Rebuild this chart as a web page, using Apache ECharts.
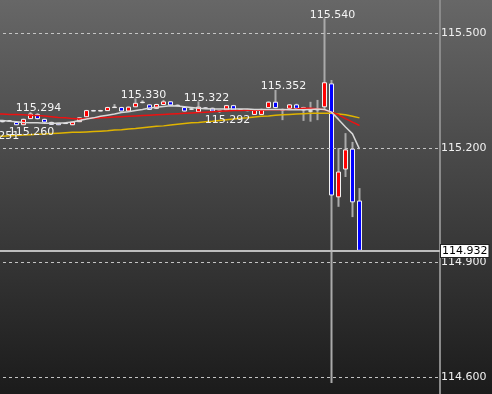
<!DOCTYPE html>
<html>
<head>
<meta charset="utf-8">
<script src="https://cdn.jsdelivr.net/npm/echarts@6/dist/echarts.min.js"></script>
<style>
html,body{margin:0;padding:0;background:#333;}
#chart{width:492px;height:394px;}
</style>
</head>
<body>
<div id="chart"></div>
<script>
// ---- data (price units) ----
const opens = [115.262,115.265,115.270,115.271,115.267,115.261,115.277,115.288,115.275,115.267,
  115.265,115.265,115.261,115.269,115.282,115.298,115.297,115.298,115.306,115.306,
  115.297,115.308,115.319,115.313,115.304,115.314,115.321,115.312,115.306,115.302,
  115.295,115.305,115.304,115.297,115.300,115.311,115.300,115.299,115.288,115.288,
  115.306,115.320,115.300,115.304,115.313,115.306,115.297,115.300,115.308,115.368,
  115.072,115.145,115.197,115.061];
const closes = [115.258,115.268,115.269,115.271,115.261,115.275,115.289,115.277,115.268,115.262,
  115.261,115.264,115.268,115.279,115.298,115.297,115.298,115.306,115.307,115.297,
  115.307,115.317,115.320,115.301,115.314,115.321,115.313,115.311,115.297,115.302,
  115.307,115.304,115.297,115.296,115.311,115.300,115.300,115.298,115.300,115.301,
  115.320,115.306,115.300,115.313,115.304,115.300,115.297,115.301,115.371,115.077,
  115.137,115.195,115.059,114.932];
const lows = [115.251,115.262,115.267,115.269,115.260,115.260,115.276,115.275,115.266,115.261,
  115.260,115.263,115.260,115.268,115.281,115.296,115.296,115.297,115.305,115.296,
  115.296,115.307,115.317,115.300,115.302,115.313,115.311,115.309,115.296,115.300,
  115.294,115.302,115.295,115.292,115.299,115.298,115.298,115.296,115.287,115.287,
  115.304,115.304,115.273,115.302,115.302,115.271,115.269,115.273,115.300,114.584,
  115.046,115.124,115.019,114.929];
const highs = [115.266,115.270,115.272,115.273,115.269,115.277,115.294,115.291,115.277,115.269,
  115.266,115.267,115.269,115.280,115.300,115.300,115.300,115.308,115.315,115.308,
  115.309,115.330,115.325,115.315,115.316,115.326,115.323,115.314,115.308,115.305,
  115.322,115.307,115.306,115.299,115.313,115.313,115.302,115.301,115.301,115.303,
  115.322,115.352,115.303,115.315,115.316,115.308,115.321,115.326,115.540,115.378,
  115.200,115.239,115.216,115.095];
const maRed = [115.289,115.289,115.289,115.288,115.288,115.287,115.286,115.285,115.284,115.282,
  115.280,115.279,115.277,115.276,115.277,115.278,115.279,115.280,115.281,115.282,
  115.283,115.284,115.285,115.286,115.287,115.288,115.289,115.290,115.291,115.292,
  115.293,115.294,115.295,115.296,115.297,115.298,115.298,115.299,115.299,115.299,
  115.300,115.300,115.300,115.301,115.302,115.304,115.304,115.303,115.300,115.294,
  115.287,115.277,115.268,115.259];
const maYellow = [115.230,115.231,115.231,115.232,115.233,115.234,115.235,115.236,115.237,115.238,
  115.239,115.240,115.241,115.241,115.242,115.243,115.244,115.245,115.247,115.248,
  115.250,115.251,115.253,115.255,115.257,115.258,115.260,115.262,115.264,115.266,
  115.267,115.269,115.270,115.272,115.274,115.276,115.278,115.279,115.281,115.283,
  115.284,115.286,115.287,115.288,115.289,115.290,115.291,115.291,115.291,115.291,
  115.289,115.287,115.283,115.279];
const maWhite = [115.273,115.273,115.272,115.270,115.269,115.267,115.266,115.266,115.265,115.265,
  115.265,115.266,115.268,115.272,115.276,115.279,115.283,115.286,115.289,115.293,
  115.295,115.298,115.301,115.305,115.307,115.309,115.311,115.310,115.308,115.306,
  115.304,115.303,115.302,115.302,115.302,115.302,115.302,115.302,115.301,115.301,
  115.301,115.301,115.301,115.300,115.300,115.300,115.301,115.302,115.301,115.294,
  115.275,115.255,115.237,115.197];
const tickValues = [115.5, 115.2, 114.9, 114.6];
const lastPrice = 114.932;
const markIdx   = [0, 5, 6, 21, 30, 33, 41, 48];
const markKind  = ['low','low','high','high','high','low','high','high'];
const markValue = [115.251, 115.260, 115.294, 115.330, 115.322, 115.292, 115.352, 115.540];
const slotCount = 65;   // visible category slots (incl. empty right margin)
const yMin = 114.5555, yMax = 115.5878;

// ---- build ----
const cats = [];
for (let i = 0; i < slotCount; i++) cats.push(String(i));
const wickData = opens.map((o, i) => [o, closes[i], lows[i], highs[i]]);
const bodyData = opens.map((o, i) => [o, closes[i], Math.min(o, closes[i]), Math.max(o, closes[i])]);
const markData = markIdx.map((ix, k) => {
  const isHigh = markKind[k] === 'high';
  return {
    coord: [ix, markValue[k]],
    value: markValue[k],
    label: {
      position: isHigh ? 'top' : 'bottom',
      distance: 0,
      offset: [8, 2]
    }
  };
});

const chart = echarts.init(document.getElementById('chart'), null, {renderer: 'canvas'});
const font = 'DejaVu Sans';
chart.setOption({
  animation: false,
  backgroundColor: {
    type: 'linear', x: 0, y: 0, x2: 0, y2: 1,
    colorStops: [{offset: 0, color: '#676767'}, {offset: 1, color: '#1b1b1b'}]
  },
  grid: {left: -15, right: 52, top: 0, bottom: 0, containLabel: false, outerBoundsMode: 'none'},
  xAxis: {
    type: 'category', data: cats, boundaryGap: true,
    axisLine: {show: false}, axisTick: {show: false}, axisLabel: {show: false}, splitLine: {show: false}
  },
  yAxis: {
    type: 'value', position: 'right', scale: true, min: yMin, max: yMax,
    axisLine: {show: true, lineStyle: {color: '#8a8a8a', width: 2}},
    axisTick: {show: false}, axisLabel: {show: false}, splitLine: {show: false}
  },
  series: [
    {
      name: 'grid', type: 'line', data: [], silent: true,
      markLine: {
        silent: true, symbol: ['none', 'none'], animation: false,
        lineStyle: {color: '#c4c4c4', type: [3, 3], width: 1},
        label: {show: true, position: 'end', distance: 1, color: '#f0f0f0',
                fontFamily: font, fontSize: 11, formatter: '{b}'},
        emphasis: {disabled: true},
        data: tickValues.map(v => ({yAxis: v, name: v.toFixed(3)}))
      }
    },
    {
      name: 'wick', type: 'candlestick', data: wickData, barWidth: 1, silent: true,
      itemStyle: {color: '#aaaaaa', color0: '#aaaaaa', borderColor: '#aaaaaa', borderColor0: '#aaaaaa', borderWidth: 2}
    },
    {
      name: 'body', type: 'candlestick', data: bodyData, barWidth: 5, silent: true,
      itemStyle: {color: '#ff0000', color0: '#0000ff', borderColor: '#f2f2f2', borderColor0: '#f2f2f2', borderWidth: 1},
      markPoint: {
        silent: true, symbol: 'circle', symbolSize: 0,
        label: {show: true, color: '#f4f4f4', fontFamily: font, fontSize: 11,
                formatter: p => p.value.toFixed(3)},
        data: markData
      }
    },
    {name: 'maYellow', type: 'line', data: maYellow, symbol: 'none', silent: true,
     lineStyle: {color: '#e0b400', width: 1.5}},
    {name: 'maRed', type: 'line', data: maRed, symbol: 'none', silent: true,
     lineStyle: {color: '#ee1111', width: 1.5}},
    {name: 'maWhite', type: 'line', data: maWhite, symbol: 'none', silent: true,
     lineStyle: {color: '#d8d8d8', width: 1.5}},
    {
      name: 'last', type: 'line', data: [], silent: true,
      markLine: {
        silent: true, symbol: ['none', 'none'], animation: false,
        lineStyle: {color: '#bdbdbd', type: 'solid', width: 2},
        label: {show: true, position: 'end', distance: 1, color: '#000',
                backgroundColor: '#ffffff', borderColor: '#222', borderWidth: 1,
                padding: [1, 1, 0, 1], fontFamily: font, fontSize: 11,
                formatter: '{b}'},
        emphasis: {disabled: true},
        data: [{yAxis: lastPrice, name: lastPrice.toFixed(3)}]
      }
    }
  ]
});
</script>
</body>
</html>
